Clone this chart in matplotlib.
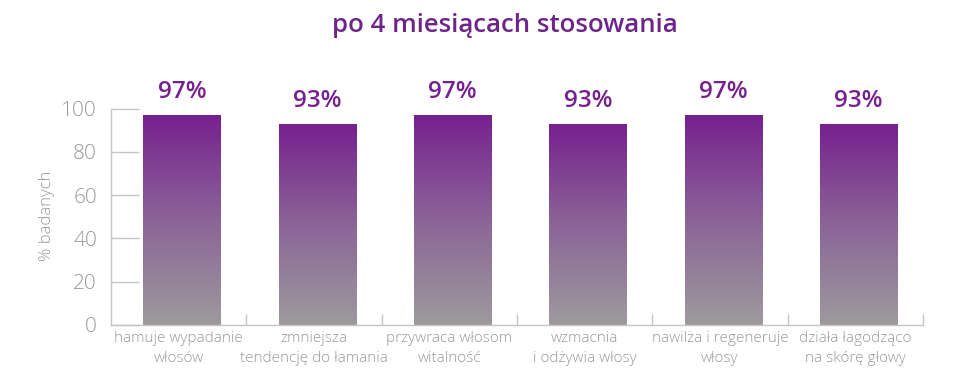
import matplotlib
matplotlib.use("Agg")
import matplotlib.pyplot as plt
import numpy as np
from matplotlib.colors import LinearSegmentedColormap

categories = ["hamuje wypadanie\nwłosów", "zmniejsza\ntendencję do łamania",
              "przywraca włosom\nwitalność", "wzmacnia\ni odżywia włosy",
              "nawilża i regeneruje\nwłosy", "działa łagodząco\nna skórę głowy"]
values = [97, 93, 97, 93, 97, 93]
value_labels = ["97%", "93%", "97%", "93%", "97%", "93%"]
yticks = [0, 20, 40, 60, 80, 100]
title = "po 4 miesiącach stosowania"
ylabel = "% badanych"

purple = "#76208f"
gray_txt = "#999999"
axis_col = "#c4c4c4"

plt.rcParams['font.family'] = ['Open Sans', 'DejaVu Sans']

fig = plt.figure(figsize=(9.6, 3.82), dpi=100)
ax = fig.add_axes([111/960, 1-325/382, (923-111)/960, (325-108.5)/382])

cmap = LinearSegmentedColormap.from_list("g", ["#9d9a9d", "#8b6497", purple])
x = np.arange(len(categories))
bars = ax.bar(x + 0.025, values, width=0.57, color="none", edgecolor="none")
grad = np.linspace(0, 1, 256).reshape(-1, 1)
for b, v in zip(bars, values):
    x0 = b.get_x()
    w = b.get_width()
    im = ax.imshow(grad, cmap=cmap, origin="lower", aspect="auto",
                   extent=[x0, x0 + w, 0, v], vmin=0, vmax=1, zorder=2)
    im.set_clip_path(b)

for xi, v, lab in zip(x, values, value_labels):
    ax.text(xi + 0.025, v + 5, lab, ha="center", va="bottom", color=purple,
            fontsize=17.5, fontweight="semibold", clip_on=False)

ax.set_xlim(-0.5, len(categories) - 0.5)
ax.set_ylim(0, 100)

ax.set_yticks(yticks)
ax.set_yticklabels([str(t) for t in yticks], fontsize=15, color=gray_txt,
                   fontweight="light")
ax.tick_params(axis="y", direction="in", length=20, width=1, color=axis_col, pad=10)

ax.set_xticks(x)
ax.set_xticklabels(categories, fontsize=11, color=gray_txt, linespacing=1.45,
                   fontweight="light")
ax.tick_params(axis="x", which="major", length=0, pad=4)
ax.set_xticks(np.arange(len(categories)) + 0.5, minor=True)
ax.tick_params(axis="x", which="minor", direction="in", length=8, width=1, color=axis_col)

for s in ["top", "right"]:
    ax.spines[s].set_visible(False)
for s in ["left", "bottom"]:
    ax.spines[s].set_color(axis_col)
    ax.spines[s].set_linewidth(1)

fig.text(47/960, 1 - 216/382, ylabel, rotation=90, ha="center", va="center",
         fontsize=12, color=gray_txt, fontweight="light")
fig.text(505/960, 1 - 26/382, title, ha="center", va="center",
         fontsize=18.5, fontweight="semibold", color="#6e2489")

fig.savefig("out.png", dpi=100)
